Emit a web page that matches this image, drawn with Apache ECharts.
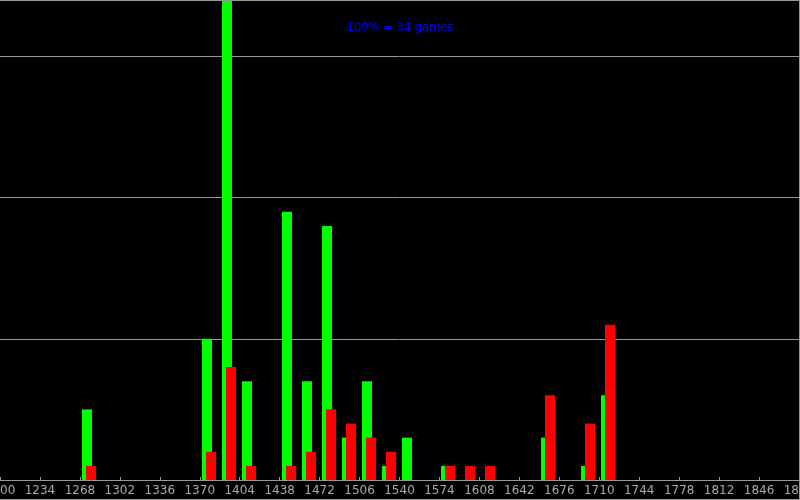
<!DOCTYPE html>
<html>
<head>
<meta charset="utf-8">
<script src="https://cdn.jsdelivr.net/npm/echarts@6/dist/echarts.min.js"></script>
<style>html,body{margin:0;padding:0;background:#000;}#c{width:800px;height:500px;}</style>
</head>
<body>
<div id="c"></div>
<script>
var binStarts = [1268, 1370, 1387, 1404, 1438, 1455, 1472, 1489, 1506, 1523, 1540, 1574, 1591, 1608, 1659, 1693, 1710];
var greenCounts = [5, 10, 34, 7, 19, 7, 18, 3, 7, 1, 3, 1, 0, 0, 3, 1, 6];
var redCounts = [1, 2, 8, 1, 1, 2, 5, 4, 3, 2, 0, 1, 1, 1, 6, 4, 11];
var titleText = '100% = 34 games';
var xMin = 1200, xMax = 1880, xStep = 34;
var yMax = 34, yStep = 10;

var chart = echarts.init(document.getElementById('c'), null, {renderer: 'canvas'});

function makeRender(color, offsetPx) {
  return function (params, api) {
    var v = api.value(1);
    if (!v) return null;
    var top = api.coord([api.value(0), v]);
    var base = api.coord([api.value(0), 0]);
    return {
      type: 'rect',
      shape: {x: Math.round(base[0]) + offsetPx, y: top[1], width: 10, height: base[1] - top[1]},
      style: {fill: color}
    };
  };
}

chart.setOption({
  backgroundColor: '#000',
  animation: false,
  title: {
    text: titleText, left: 'center', top: 17,
    textStyle: {color: '#0000ff', fontSize: 11.5, fontWeight: 'normal', fontFamily: 'DejaVu Sans'}
  },
  grid: {left: 0, right: 1, top: 0, bottom: 20, containLabel: false, outerBoundsMode: 'none'},
  xAxis: {
    type: 'value', min: xMin, max: xMax, interval: xStep,
    axisLine: {show: true, lineStyle: {color: '#999', width: 1}},
    axisTick: {show: true, inside: true, length: 3, lineStyle: {color: '#999'}},
    axisLabel: {color: '#aaa', fontSize: 12, fontFamily: 'DejaVu Sans', margin: 5, showMinLabel: true, showMaxLabel: true, hideOverlap: false,
      formatter: function (v) { return String(v); }},
    splitLine: {show: false}
  },
  yAxis: {
    type: 'value', min: 0, max: yMax, interval: yStep,
    axisLine: {show: false}, axisTick: {show: false}, axisLabel: {show: false},
    splitLine: {show: true, lineStyle: {color: '#999', width: 1}}
  },
  graphic: [
    {type: 'line', shape: {x1: 0, y1: 0.5, x2: 800, y2: 0.5}, style: {stroke: '#999', lineWidth: 1}, z: 100},
    {type: 'line', shape: {x1: 799.5, y1: 0, x2: 799.5, y2: 500}, style: {stroke: '#999', lineWidth: 1}, z: 100},
    {type: 'line', shape: {x1: 0, y1: 499.5, x2: 800, y2: 499.5}, style: {stroke: '#999', lineWidth: 1}, z: 100}
  ],
  series: [
    {type: 'custom', renderItem: makeRender('#00ff00', 2), data: binStarts.map(function (b, i) { return [b, greenCounts[i]]; }), z: 2},
    {type: 'custom', renderItem: makeRender('#ff0000', 6), data: binStarts.map(function (b, i) { return [b, redCounts[i]]; }), z: 3}
  ]
});
</script>
</body>
</html>
